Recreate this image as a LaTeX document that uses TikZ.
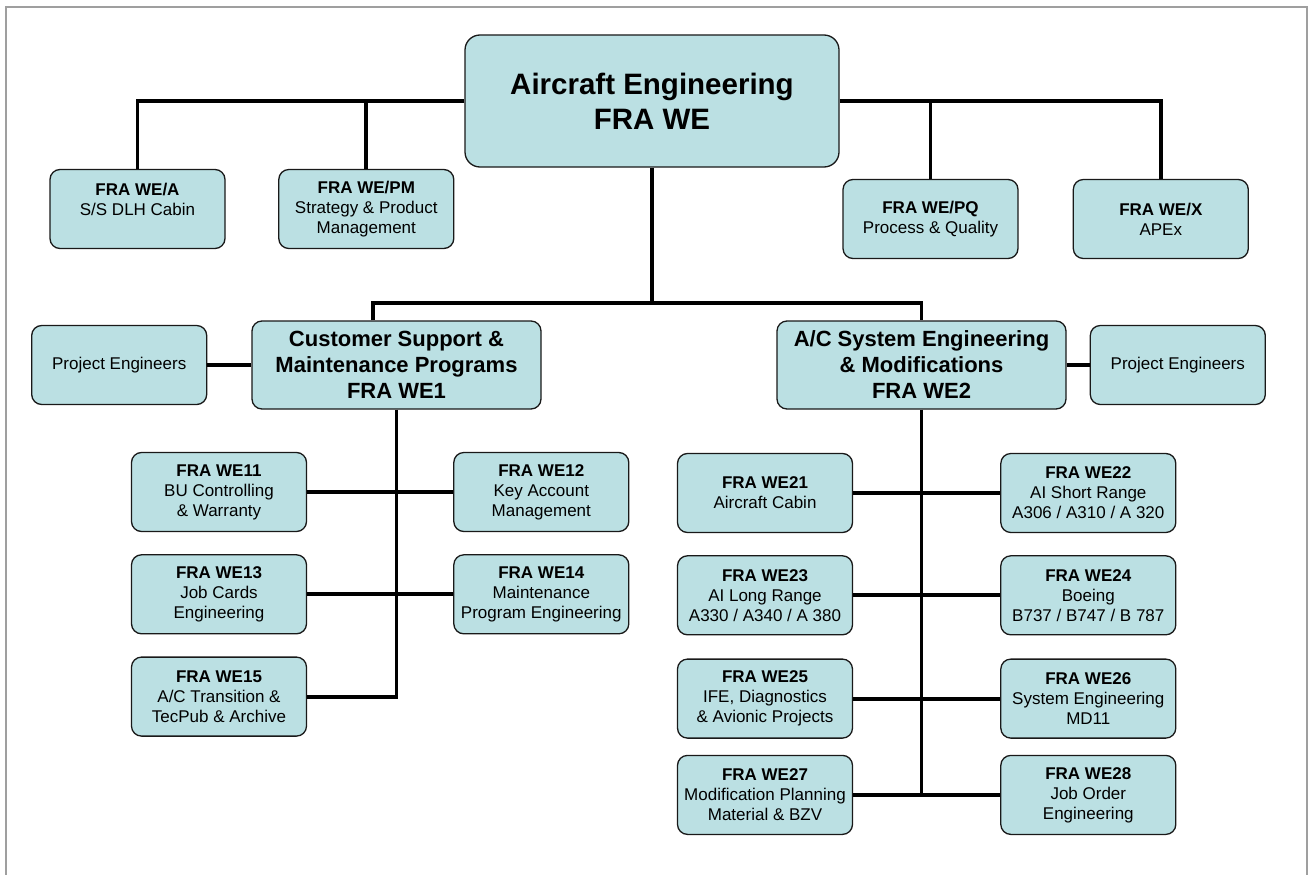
\documentclass[tikz,border=0pt]{standalone}
\usepackage{fontspec}
\setmainfont{Liberation Sans}
\usetikzlibrary{positioning}
\definecolor{boxfill}{RGB}{187,224,227}

\begin{document}
\begin{tikzpicture}[x=1pt, y=-1pt,
  unit/.style={draw=black!90, line width=1.3pt, fill=boxfill, rounded corners=10pt,
               align=center, minimum width=175pt, minimum height=79pt, inner sep=2pt,
               font=\fontsize{17}{20}\selectfont},
  dept/.style={unit, minimum width=289pt, minimum height=88pt,
               font=\fontsize{22}{26}\selectfont\bfseries},
  head/.style={unit, minimum width=374pt, minimum height=132pt, rounded corners=15pt,
               font=\fontsize{29.5}{35}\selectfont\bfseries},
  link/.style={line width=3.8pt},
  frame/.style={draw=gray!75, line width=2pt}]
\useasboundingbox (0,0) rectangle (1312,875);
\draw[frame] (6,875) -- (6,7) -- (1307,7) -- (1307,875);

\node[head] (we) at (652,101) {Aircraft Engineering\\FRA WE};
\node[unit] (wea) at (137.5,209) {\textbf{FRA WE/A}\\S/S DLH Cabin\\\mbox{}};
\node[unit, right=52.5pt of wea] (wepm) {\textbf{FRA WE/PM}\\Strategy \& Product\\Management};
\node[unit] (wepq) at (930.5,219) {\textbf{FRA WE/PQ}\\Process \& Quality};
\node[unit, right=54pt of wepq] (wex) {\textbf{FRA WE/X}\\APEx};

\node[dept] (we1) at (396.5,365) {Customer Support \&\\Maintenance Programs\\FRA WE1};
\node[dept] (we2) at (921.5,365) {A/C System Engineering\\\& Modifications\\FRA WE2};
\node[unit, left=44pt of we1] (pe1) {Project Engineers};
\node[unit, right=23pt of we2] (pe2) {Project Engineers};
\coordinate (split) at (652,303);

\node[unit] (we11) at (219,492) {\textbf{FRA WE11}\\BU Controlling\\\& Warranty};
\node[unit, right=146pt of we11] (we12) {\textbf{FRA WE12}\\Key Account\\Management};
\node[unit, below=22pt of we11] (we13) {\textbf{FRA WE13}\\Job Cards\\Engineering};
\node[unit, right=146pt of we13] (we14) {\textbf{FRA WE14}\\Maintenance\\Program Engineering};
\node[unit, below=22pt of we13] (we15) {\textbf{FRA WE15}\\A/C Transition \&\\TecPub \& Archive};

\node[unit] (we21) at (765,493) {\textbf{FRA WE21}\\Aircraft Cabin};
\node[unit, right=147pt of we21] (we22) {\textbf{FRA WE22}\\AI Short Range\\A306 / A310 / A 320};
\node[unit, below=22pt of we21] (we23) {\textbf{FRA WE23}\\AI Long Range\\A330 / A340 / A 380};
\node[unit, right=147pt of we23] (we24) {\textbf{FRA WE24}\\Boeing\\B737 / B747 / B 787};
\node[unit, below=23pt of we23] (we25) {\textbf{FRA WE25}\\IFE, Diagnostics\\\& Avionic Projects};
\node[unit, right=147pt of we25] (we26) {\textbf{FRA WE26}\\System Engineering\\MD11};
\node[unit, below=16pt of we25] (we27) {\textbf{FRA WE27}\\Modification Planning\\Material \& BZV};
\node[unit, right=147pt of we27] (we28) {\textbf{FRA WE28}\\Job Order\\Engineering};

\draw[link] (we.west) -| (wea.north);
\draw[link] (wepm.north) |- (we.west);
\draw[link] (we.east) -| (wex.north);
\draw[link] (wepq.north) |- (we.east);
\draw[link] (we.south) -- (split);
\draw[link] ([xshift=-23.5pt]we1.north) |- (split) -| (we2.north);
\draw[link] (pe1) -- (we1);
\draw[link] (we2) -- (pe2);
\draw[link] (we1.south) |- (we15.east);
\draw[link] (we11) -- (we12);
\draw[link] (we13) -- (we14);
\draw[link] (we2.south) |- (we27.east);
\draw[link] (we21) -- (we22);
\draw[link] (we23) -- (we24);
\draw[link] (we25) -- (we26);
\draw[link] (we27) -- (we28);
\end{tikzpicture}
\end{document}
